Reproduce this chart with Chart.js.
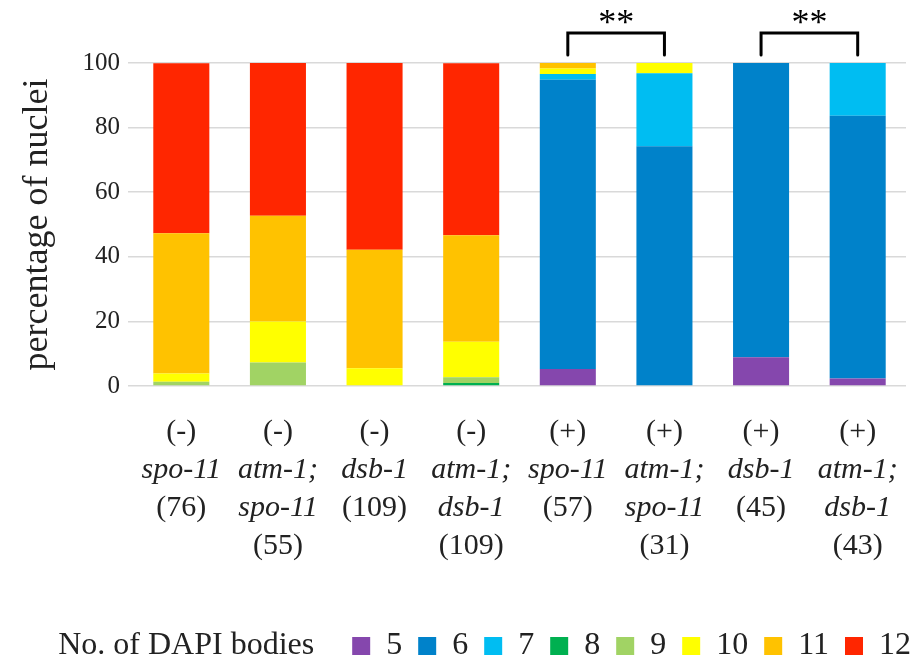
<!DOCTYPE html>
<html lang="en">
<head>
<meta charset="UTF-8">
<title>DAPI bodies per nucleus</title>
<script src="https://cdn.jsdelivr.net/npm/chart.js"></script>
<style>
    body { margin: 0; background: #fff; }
    #wrap { width: 913px; height: 669px; }
</style>
</head>
<body>
<div id="wrap"><canvas id="chart"></canvas></div>
<script>
// x labels: treatment / genotype (italic) / number of nuclei
const treatment = ['(-)', '(-)', '(-)', '(-)', '(+)', '(+)', '(+)', '(+)'];
const genotype = [['spo-11'], ['atm-1;', 'spo-11'], ['dsb-1'], ['atm-1;', 'dsb-1'],
                  ['spo-11'], ['atm-1;', 'spo-11'], ['dsb-1'], ['atm-1;', 'dsb-1']];
const nuclei = ['(76)', '(55)', '(109)', '(109)', '(57)', '(31)', '(45)', '(43)'];

// percentage of nuclei with n DAPI bodies
const bodies5  = [0, 0, 0, 0, 5.3, 0, 8.9, 2.3];
const bodies6  = [0, 0, 0, 0, 89.5, 74.2, 91.1, 81.4];
const bodies7  = [0, 0, 0, 0, 1.8, 22.6, 0, 16.3];
const bodies8  = [0, 0, 0, 0.9, 0, 0, 0, 0];
const bodies9  = [1.3, 7.3, 0, 1.8, 0, 0, 0, 0];
const bodies10 = [2.6, 12.7, 5.5, 11.0, 1.7, 3.2, 0, 0];
const bodies11 = [43.4, 32.7, 36.7, 33.0, 1.7, 0, 0, 0];
const bodies12 = [52.6, 47.3, 57.8, 53.2, 0, 0, 0, 0];

const seriesNames = ['5', '6', '7', '8', '9', '10', '11', '12'];
const yTicks = [0, 20, 40, 60, 80, 100];

// pairs of bars compared, and the mark above them
const sigPairs = [[4, 5], [6, 7]];
const sigMarks = ['**', '**'];

const colors = ['#8547ad', '#0082ca', '#00bdf2', '#00b050', '#a1d364', '#ffff00', '#ffc200', '#ff2600'];
const serif = "'Liberation Serif', 'Times New Roman', serif";
const ink = '#222';

const series = [bodies5, bodies6, bodies7, bodies8, bodies9, bodies10, bodies11, bodies12];

const xLabelsPlugin = {
    id: 'xLabels',
    afterDraw(chart) {
        const ctx = chart.ctx;
        const x = chart.scales.x;
        const base = chart.chartArea.bottom + 46;
        const step = 38;
        ctx.save();
        ctx.fillStyle = ink;
        ctx.textAlign = 'center';
        ctx.textBaseline = 'middle';
        treatment.forEach((t, i) => {
            const px = x.getPixelForValue(i);
            let k = 0;
            ctx.font = '30px ' + serif;
            ctx.fillText(t, px, base + step * k++);
            ctx.font = 'italic 30px ' + serif;
            genotype[i].forEach(g => ctx.fillText(g, px, base + step * k++));
            ctx.font = '30px ' + serif;
            ctx.fillText(nuclei[i], px, base + step * k);
        });
        ctx.restore();
    }
};

const bracketPlugin = {
    id: 'brackets',
    afterDraw(chart) {
        const ctx = chart.ctx;
        const x = chart.scales.x;
        const top = chart.chartArea.top - 30;
        const legEnd = chart.chartArea.top - 8;
        ctx.save();
        ctx.strokeStyle = '#000';
        ctx.lineWidth = 3;
        ctx.lineCap = 'round';
        ctx.fillStyle = '#000';
        ctx.font = '36px ' + serif;
        ctx.textAlign = 'center';
        ctx.textBaseline = 'alphabetic';
        sigPairs.forEach(([a, b], i) => {
            const xa = x.getPixelForValue(a);
            const xb = x.getPixelForValue(b);
            ctx.beginPath();
            ctx.moveTo(xa, legEnd);
            ctx.lineTo(xa, top);
            ctx.lineTo(xb, top);
            ctx.lineTo(xb, legEnd);
            ctx.stroke();
            ctx.fillText(sigMarks[i], (xa + xb) / 2, top + 1);
        });
        ctx.restore();
    }
};

const legendTitlePlugin = {
    id: 'legendTitle',
    afterDraw(chart) {
        const boxes = chart.legend.legendHitBoxes;
        if (!boxes || !boxes.length) return;
        const ctx = chart.ctx;
        ctx.save();
        ctx.fillStyle = ink;
        ctx.font = '32px ' + serif;
        ctx.textAlign = 'right';
        ctx.textBaseline = 'middle';
        ctx.fillText('No. of DAPI bodies', boxes[0].left - 38, boxes[0].top + boxes[0].height / 2);
        ctx.restore();
    }
};

new Chart(document.getElementById('chart'), {
    type: 'bar',
    data: {
        labels: treatment.map((t, i) => [t, ...genotype[i], nuclei[i]]),
        datasets: series.map((d, i) => ({
            label: seriesNames[i],
            data: d,
            backgroundColor: colors[i],
            borderWidth: 0,
            barPercentage: 0.58,
            categoryPercentage: 1
        }))
    },
    options: {
        responsive: true,
        maintainAspectRatio: false,
        animation: false,
        layout: { padding: { top: 63, left: 0, right: -14, bottom: -3 } },
        plugins: {
            tooltip: { enabled: false },
            legend: {
                position: 'bottom',
                align: 'end',
                labels: {
                    boxWidth: 18,
                    boxHeight: 18,
                    padding: 16,
                    color: ink,
                    font: { family: serif, size: 32 }
                }
            }
        },
        scales: {
            x: {
                stacked: true,
                ticks: { display: false },
                grid: { display: false },
                border: { display: false },
                afterFit: s => { s.height = 228; }
            },
            y: {
                stacked: true,
                min: 0,
                max: 100,
                afterBuildTicks: s => { s.ticks = yTicks.map(v => ({ value: v })); },
                ticks: { color: ink, padding: 8, font: { family: serif, size: 25 } },
                grid: { color: '#d9d9d9', lineWidth: 1.5, tickLength: 5, tickColor: '#d9d9d9' },
                border: { display: false },
                title: {
                    display: true,
                    text: 'percentage of nuclei',
                    color: ink,
                    padding: { top: 16, bottom: 0 },
                    font: { family: serif, size: 36 }
                },
                afterFit: s => { s.width = 133; }
            },
            yRight: {
                position: 'right',
                display: true,
                ticks: { display: false },
                grid: { display: false },
                border: { display: false },
                afterFit: s => { s.width = 21; }
            }
        }
    },
    plugins: [xLabelsPlugin, bracketPlugin, legendTitlePlugin]
});
</script>
</body>
</html>
